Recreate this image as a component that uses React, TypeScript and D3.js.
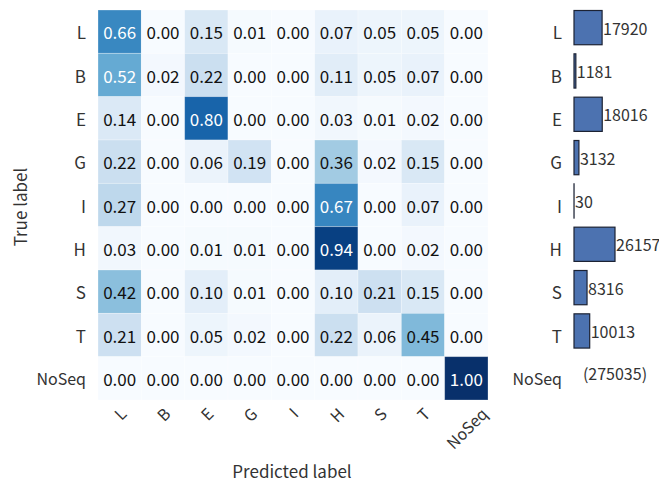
import { useEffect, useRef } from "react";
import * as d3 from "d3";

const labels = ["L", "B", "E", "G", "I", "H", "S", "T", "NoSeq"];

// normalised confusion matrix, one row per true label
const rowL = [0.66, 0.0, 0.15, 0.01, 0.0, 0.07, 0.05, 0.05, 0.0];
const rowB = [0.52, 0.02, 0.22, 0.0, 0.0, 0.11, 0.05, 0.07, 0.0];
const rowE = [0.14, 0.0, 0.8, 0.0, 0.0, 0.03, 0.01, 0.02, 0.0];
const rowG = [0.22, 0.0, 0.06, 0.19, 0.0, 0.36, 0.02, 0.15, 0.0];
const rowI = [0.27, 0.0, 0.0, 0.0, 0.0, 0.67, 0.0, 0.07, 0.0];
const rowH = [0.03, 0.0, 0.01, 0.01, 0.0, 0.94, 0.0, 0.02, 0.0];
const rowS = [0.42, 0.0, 0.1, 0.01, 0.0, 0.1, 0.21, 0.15, 0.0];
const rowT = [0.21, 0.0, 0.05, 0.02, 0.0, 0.22, 0.06, 0.45, 0.0];
const rowNoSeq = [0.0, 0.0, 0.0, 0.0, 0.0, 0.0, 0.0, 0.0, 1.0];
const matrix = [rowL, rowB, rowE, rowG, rowI, rowH, rowS, rowT, rowNoSeq];

// class sizes (NoSeq is only printed, not drawn)
const counts = [17920, 1181, 18016, 3132, 30, 26157, 8316, 10013];
const noSeqCount = 275035;

const width = 659, height = 481;
const font = "'Noto Sans CJK JP', 'Noto Sans', sans-serif";

const ConfusionChart = () => {
  const ref = useRef(null);

  useEffect(() => {
    const svg = d3.select(ref.current)
      .append("svg")
      .attr("width", width)
      .attr("height", height)
      .style("position", "absolute")
      .style("left", 0)
      .style("top", 0)
      .style("font-family", font);

    const x = d3.scaleBand().domain(labels).range([98, 488]);
    const y = d3.scaleBand().domain(labels).range([10, 400]);
    const color = d3.scaleSequential(d3.interpolateBlues).domain([0, 1]);

    const cells = matrix.flatMap((row, i) => row.map((v, j) => ({ t: labels[i], p: labels[j], v })));

    svg.append("g")
      .selectAll("rect")
      .data(cells)
      .join("rect")
        .attr("x", d => x(d.p)!)
        .attr("y", d => y(d.t)!)
        .attr("width", x.bandwidth())
        .attr("height", y.bandwidth())
        .attr("fill", d => color(d.v))
        .attr("stroke", "#ffffff")
        .attr("stroke-opacity", 0.35)
        .attr("stroke-width", 0.8);

    svg.append("g")
      .selectAll("text")
      .data(cells)
      .join("text")
        .attr("x", d => x(d.p)! + x.bandwidth() / 2)
        .attr("y", d => y(d.t)! + y.bandwidth() / 2)
        .attr("text-anchor", "middle")
        .attr("dominant-baseline", "central")
        .attr("font-size", 17)
        .attr("fill", d => d.v > 0.5 ? "#ffffff" : "#111111")
        .text(d => d.v.toFixed(2));

    // row labels of the matrix
    svg.append("g")
      .selectAll("text")
      .data(labels)
      .join("text")
        .attr("x", 86)
        .attr("y", d => y(d)! + y.bandwidth() / 2)
        .attr("text-anchor", "end")
        .attr("dominant-baseline", "central")
        .attr("font-size", d => d === "NoSeq" ? 16 : 17)
        .attr("fill", "#333333")
        .text(d => d);

    // rotated column labels, bbox centred under each column
    const colLabels = svg.append("g")
      .selectAll("text")
      .data(labels)
      .join("text")
        .attr("text-anchor", "middle")
        .attr("dominant-baseline", "central")
        .attr("font-size", 16)
        .attr("fill", "#333333")
        .text(d => d);
    colLabels.each(function (d) {
      const el = this as SVGTextElement;
      const w = el.getComputedTextLength();
      const h = 12;
      const half = (w + h) / (2 * Math.SQRT2);
      const cx = x(d)! + x.bandwidth() / 2;
      const cy = 406 + half;
      d3.select(el).attr("transform", `translate(${cx},${cy}) rotate(-45)`);
    });

    // side bars with class sizes
    const xb = d3.scaleLinear().domain([0, 26157]).range([574, 615]);
    const barLabels = labels.slice(0, 8);

    svg.append("g")
      .selectAll("rect")
      .data(barLabels)
      .join("rect")
        .attr("x", xb(0))
        .attr("y", d => y(d)! + 0.5)
        .attr("width", (d, i) => xb(counts[i]) - xb(0))
        .attr("height", y.bandwidth() * 0.79)
        .attr("fill", "#4c72b0")
        .attr("stroke", "#1c2233")
        .attr("stroke-width", 1.2);

    svg.append("g")
      .selectAll("text")
      .data(barLabels)
      .join("text")
        .attr("x", (d, i) => xb(counts[i]) + 1)
        .attr("y", d => y(d)! + y.bandwidth() / 2 - 4)
        .attr("dominant-baseline", "central")
        .attr("font-size", 16)
        .attr("fill", "#333333")
        .text((d, i) => counts[i]);

    svg.append("text")
      .attr("x", 615)
      .attr("y", y("NoSeq")! + y.bandwidth() / 2 - 5)
      .attr("text-anchor", "middle")
      .attr("dominant-baseline", "central")
      .attr("font-size", 16)
      .attr("fill", "#333333")
      .text(`(${noSeqCount})`);

    svg.append("g")
      .selectAll("text")
      .data(labels)
      .join("text")
        .attr("x", 562)
        .attr("y", d => y(d)! + y.bandwidth() / 2)
        .attr("text-anchor", "end")
        .attr("dominant-baseline", "central")
        .attr("font-size", d => d === "NoSeq" ? 16 : 17)
        .attr("fill", "#333333")
        .text(d => d);

    // axis titles
    svg.append("text")
      .attr("transform", "translate(19,207) rotate(-90)")
      .attr("text-anchor", "middle")
      .attr("dominant-baseline", "central")
      .attr("font-size", 17)
      .attr("fill", "#333333")
      .text("True label");

    svg.append("text")
      .attr("x", 292)
      .attr("y", 470)
      .attr("text-anchor", "middle")
      .attr("dominant-baseline", "central")
      .attr("font-size", 17)
      .attr("fill", "#333333")
      .text("Predicted label");

    return () => {
      d3.select(ref.current).select("svg").remove();
    };
  }, []);

  return <div ref={ref}></div>;
};

export default function App() {
  return <ConfusionChart />;
}
